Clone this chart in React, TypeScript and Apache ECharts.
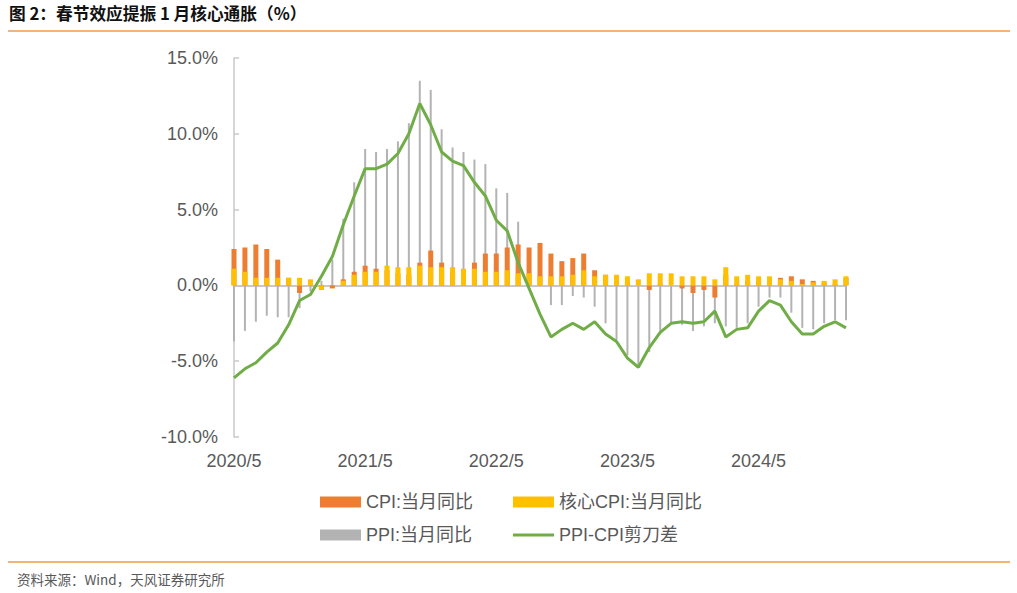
import React, { useEffect, useRef } from "react";
import * as echarts from "echarts";

const categories = [
  "2020/5","2020/6","2020/7","2020/8","2020/9","2020/10","2020/11","2020/12",
  "2021/1","2021/2","2021/3","2021/4","2021/5","2021/6","2021/7","2021/8","2021/9","2021/10","2021/11","2021/12",
  "2022/1","2022/2","2022/3","2022/4","2022/5","2022/6","2022/7","2022/8","2022/9","2022/10","2022/11","2022/12",
  "2023/1","2023/2","2023/3","2023/4","2023/5","2023/6","2023/7","2023/8","2023/9","2023/10","2023/11","2023/12",
  "2024/1","2024/2","2024/3","2024/4","2024/5","2024/6","2024/7","2024/8","2024/9","2024/10","2024/11","2024/12",
  "2025/1",
];

const cpi = [
  2.4, 2.5, 2.7, 2.4, 1.7, 0.5, -0.5, 0.2,
  -0.3, -0.2, 0.4, 0.9, 1.3, 1.1, 1.0, 0.8, 0.7, 1.5, 2.3, 1.5,
  0.9, 0.9, 1.5, 2.1, 2.1, 2.5, 2.7, 2.5, 2.8, 2.1, 1.6, 1.8,
  2.1, 1.0, 0.7, 0.1, 0.2, 0.0, -0.3, 0.1, 0.0, -0.2, -0.5, -0.3,
  -0.8, 0.7, 0.1, 0.3, 0.3, 0.2, 0.5, 0.6, 0.4, 0.3, 0.2, 0.1,
  0.5,
];

const coreCpi = [
  1.1, 0.9, 0.5, 0.5, 0.5, 0.5, 0.5, 0.4,
  -0.3, 0.0, 0.3, 0.7, 0.9, 0.9, 1.3, 1.2, 1.2, 1.3, 1.2, 1.2,
  1.2, 1.1, 1.1, 0.9, 0.9, 1.0, 0.8, 0.8, 0.6, 0.6, 0.6, 0.7,
  1.0, 0.6, 0.7, 0.7, 0.6, 0.4, 0.8, 0.8, 0.8, 0.6, 0.6, 0.6,
  0.4, 1.2, 0.6, 0.7, 0.6, 0.6, 0.4, 0.3, 0.1, 0.2, 0.3, 0.4,
  0.6,
];

const ppi = [
  -3.7, -3.0, -2.4, -2.0, -2.1, -2.1, -1.5, -0.4,
  0.3, 1.7, 4.4, 6.8, 9.0, 8.8, 9.0, 9.5, 10.7, 13.5, 12.9, 10.3,
  9.1, 8.8, 8.3, 8.0, 6.4, 6.1, 4.2, 2.3, 0.9, -1.3, -1.3, -0.7,
  -0.8, -1.4, -2.5, -3.6, -4.6, -5.4, -4.4, -3.0, -2.5, -2.6, -3.0, -2.7,
  -2.5, -2.7, -2.8, -2.5, -1.4, -0.8, -0.8, -1.8, -2.8, -2.9, -2.5, -2.3,
  -2.3,
];

const scissors = [
  -6.1, -5.5, -5.1, -4.4, -3.8, -2.6, -1.0, -0.6,
  0.6, 1.9, 4.0, 5.9, 7.7, 7.7, 8.0, 8.7, 10.0, 12.0, 10.6, 8.8,
  8.2, 7.9, 6.8, 5.9, 4.3, 3.6, 1.5, -0.2, -1.9, -3.4, -2.9, -2.5,
  -2.9, -2.4, -3.2, -3.7, -4.8, -5.4, -4.1, -3.1, -2.5, -2.4, -2.5, -2.4,
  -1.7, -3.4, -2.9, -2.8, -1.7, -1.0, -1.3, -2.4, -3.2, -3.2, -2.7, -2.4,
  -2.8,
];

const seriesNames = ["CPI:当月同比", "核心CPI:当月同比", "PPI:当月同比", "PPI-CPI剪刀差"];
const titleText = "图 2：春节效应提振 1 月核心通胀（%）";
const sourceText = "资料来源：Wind，天风证券研究所";

const FONT = "'Liberation Sans', Arial, 'Noto Sans CJK SC', sans-serif";
const CJK = "'Noto Sans CJK SC', 'Liberation Sans', sans-serif";
const GREY_TEXT = "#595959";

export default function App() {
  const ref = useRef<HTMLDivElement>(null);

  useEffect(() => {
    if (!ref.current) return;
    const chart = echarts.init(ref.current, null, { renderer: "svg" });
    const legendText = { fontSize: 18, color: GREY_TEXT, fontFamily: FONT };
    const option = {
      animation: false,
      backgroundColor: "#ffffff",
      graphic: [
        {
          type: "text",
          left: 9,
          top: 5,
          style: { text: titleText, font: `bold 16.7px ${CJK}`, fill: "#111" },
        },
        {
          type: "line",
          shape: { x1: 8, y1: 31, x2: 1010, y2: 31 },
          style: { stroke: "#F29A4B", lineWidth: 1.5 },
        },
        {
          type: "line",
          shape: { x1: 8, y1: 562, x2: 1010, y2: 562 },
          style: { stroke: "#F29A4B", lineWidth: 1.5 },
        },
        {
          type: "text",
          left: 17,
          top: 572,
          style: { text: sourceText, font: `13.5px ${CJK}`, fill: GREY_TEXT },
        },
      ],
      grid: { left: 234, right: 171, top: 58, bottom: 156, containLabel: false },
      legend: [
        { left: 315, top: 488, data: [{ name: seriesNames[0], icon: "rect" }], itemWidth: 41, itemHeight: 11, textStyle: legendText },
        { left: 508, top: 488, data: [{ name: seriesNames[1], icon: "rect" }], itemWidth: 41, itemHeight: 11, textStyle: legendText },
        { left: 315, top: 521, data: [{ name: seriesNames[2], icon: "rect" }], itemWidth: 41, itemHeight: 11, textStyle: legendText },
        {
          left: 508,
          top: 521,
          data: [{ name: seriesNames[3], icon: "path://M0,0 L40,0 L40,3 L0,3 Z" }],
          itemWidth: 41,
          itemHeight: 11,
          textStyle: legendText,
        },
      ],
      xAxis: [
        {
          type: "category",
          data: categories,
          boundaryGap: false,
          axisLine: { show: false, onZero: false },
          axisTick: { show: false },
          axisLabel: { interval: 11, fontSize: 18, color: GREY_TEXT, fontFamily: FONT, margin: 15 },
          splitLine: { show: false },
        },
        {
          type: "category",
          data: categories,
          boundaryGap: false,
          show: false,
          axisLine: { onZero: false },
        },
      ],
      yAxis: {
        type: "value",
        min: -10,
        max: 15,
        interval: 5,
        axisLine: { show: true, lineStyle: { color: "#C8C8C8", width: 1.5 } },
        axisTick: { show: true, inside: true, length: 5, lineStyle: { color: "#C8C8C8", width: 1.5 } },
        axisLabel: {
          fontSize: 18,
          color: GREY_TEXT,
          fontFamily: FONT,
          margin: 16,
          formatter: (v: number) => `${v.toFixed(1)}%`,
        },
        splitLine: { show: false },
      },
      series: [
        {
          name: seriesNames[2],
          type: "bar",
          xAxisIndex: 1,
          data: ppi,
          barWidth: 2,
          itemStyle: { color: "#B3B3B3" },
          z: 1,
          markLine: {
            silent: true,
            symbol: ["none", "none"],
            label: { show: false },
            lineStyle: { color: "#C8C8C8", width: 2, type: "solid" },
            data: [{ yAxis: 0 }],
            z: 1,
          },
        },
        {
          name: seriesNames[0],
          type: "bar",
          xAxisIndex: 0,
          data: cpi,
          barWidth: 5,
          barGap: "-100%",
          itemStyle: { color: "#ED7D31" },
          z: 2,
        },
        {
          name: seriesNames[1],
          type: "bar",
          xAxisIndex: 0,
          data: coreCpi,
          barWidth: 5,
          barGap: "-100%",
          itemStyle: { color: "#FFC000" },
          z: 3,
        },
        {
          name: seriesNames[3],
          type: "line",
          xAxisIndex: 0,
          data: scissors,
          symbol: "none",
          lineStyle: { color: "#70AD47", width: 3 },
          itemStyle: { color: "#70AD47" },
          z: 4,
        },
      ],
    };
    chart.setOption(option as any);
    return () => chart.dispose();
  }, []);

  return (
    <div
      ref={ref}
      style={{ position: "fixed", left: 0, top: 0, width: 1017, height: 593, background: "#fff" }}
    />
  );
}
